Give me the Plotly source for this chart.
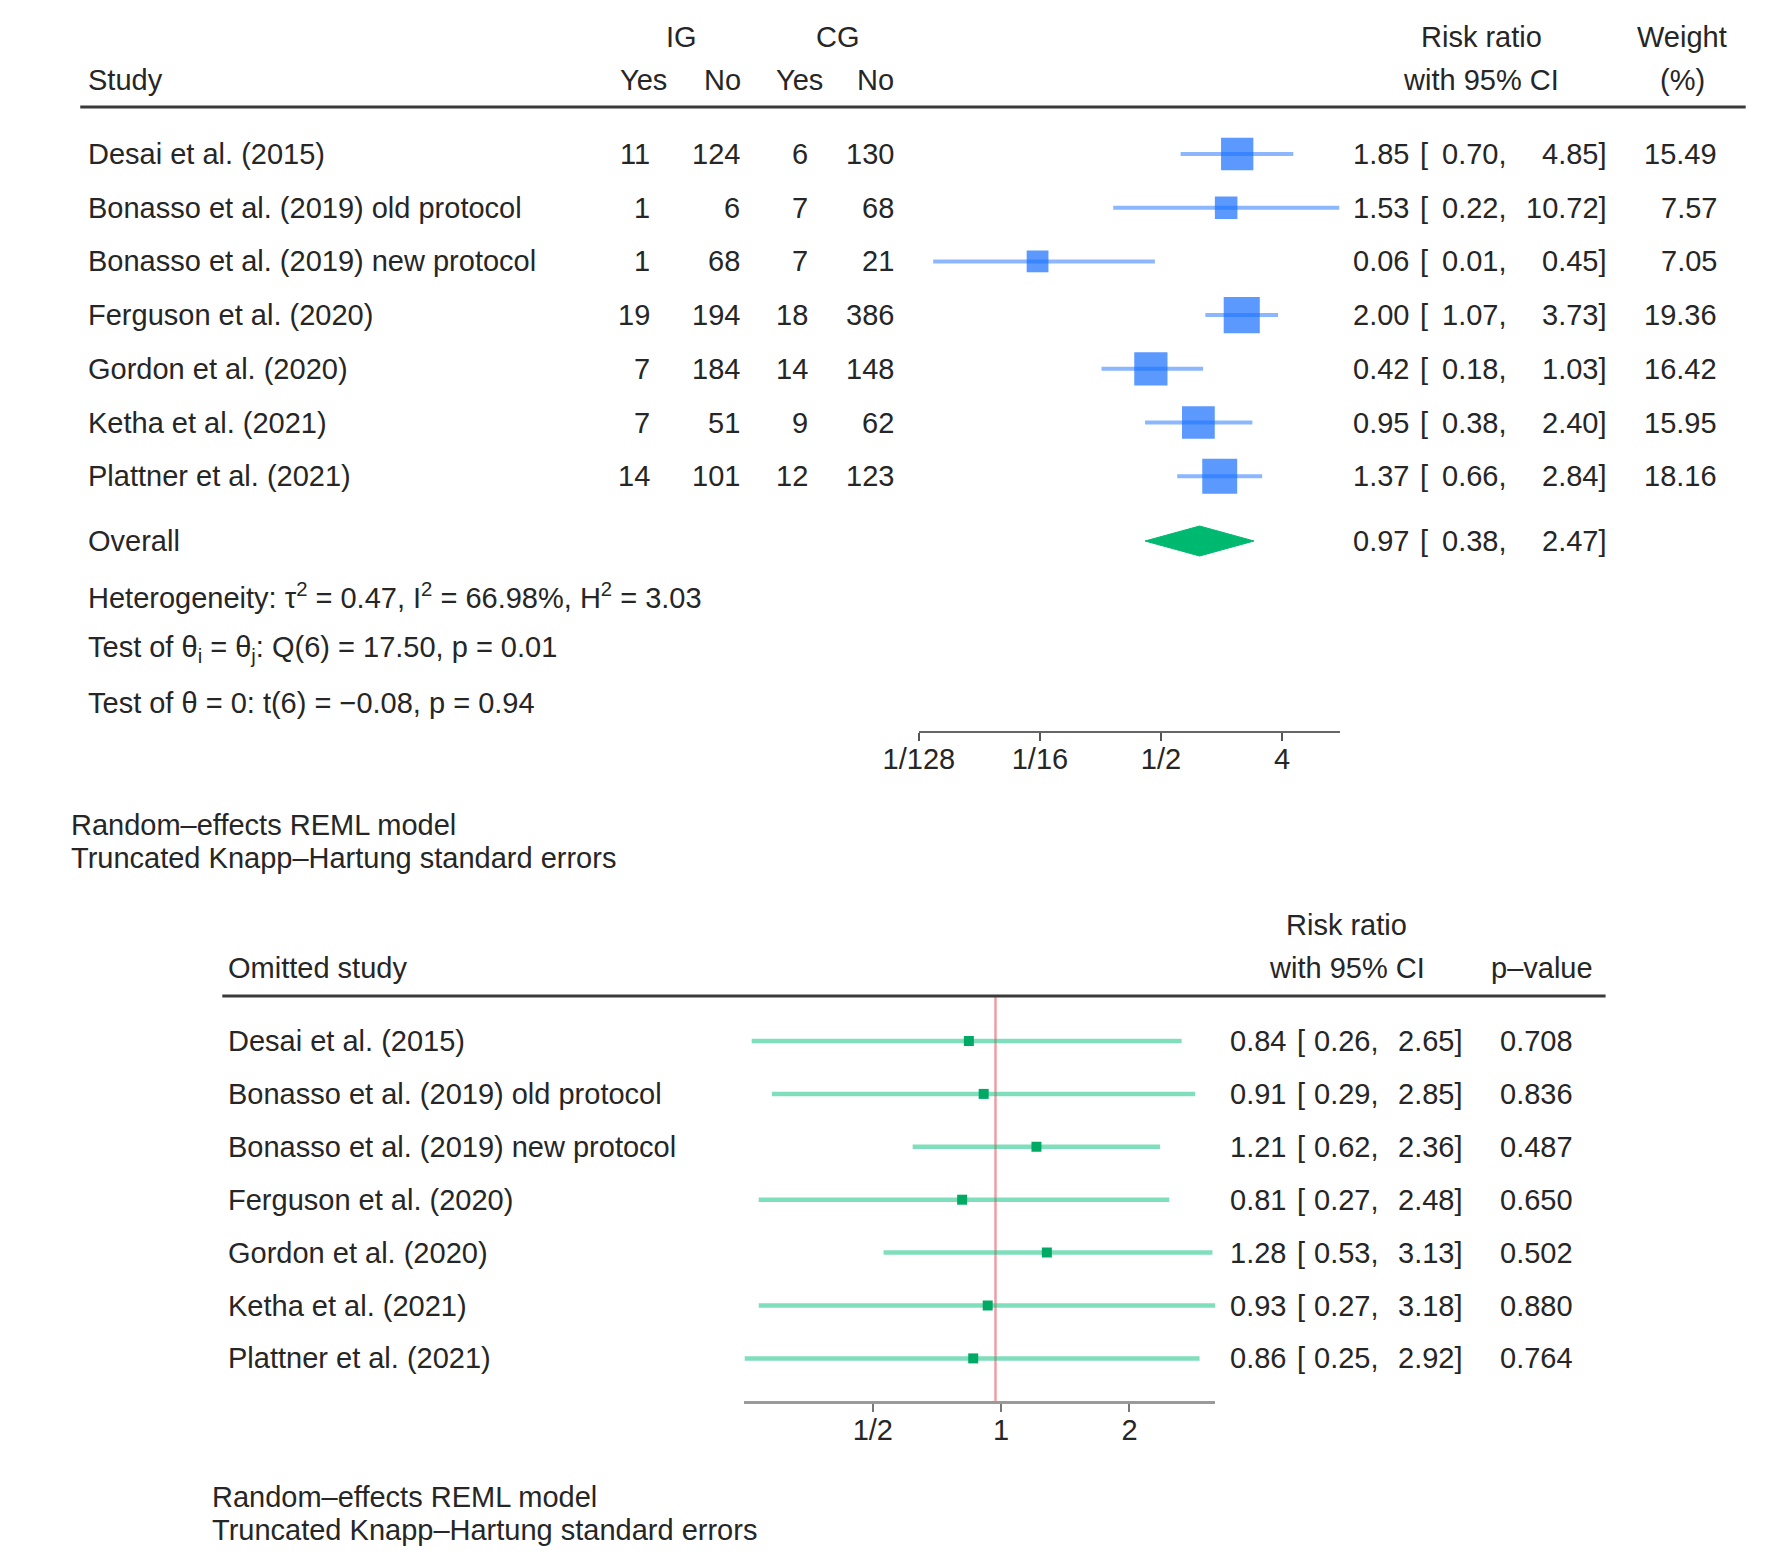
import numpy as np
import plotly.graph_objects as go

# ---------------- data ----------------
studies = ["Desai et al. (2015)", "Bonasso et al. (2019) old protocol",
           "Bonasso et al. (2019) new protocol", "Ferguson et al. (2020)",
           "Gordon et al. (2020)", "Ketha et al. (2021)", "Plattner et al. (2021)"]
ig_yes = [11, 1, 1, 19, 7, 7, 14]
ig_no = [124, 6, 68, 194, 184, 51, 101]
cg_yes = [6, 7, 7, 18, 14, 9, 12]
cg_no = [130, 68, 21, 386, 148, 62, 123]
rr = [1.85, 1.53, 0.06, 2.00, 0.42, 0.95, 1.37]
ci_lo = [0.70, 0.22, 0.01, 1.07, 0.18, 0.38, 0.66]
ci_hi = [4.85, 10.72, 0.45, 3.73, 1.03, 2.40, 2.84]
weight = [15.49, 7.57, 7.05, 19.36, 16.42, 15.95, 18.16]
overall = [0.97, 0.38, 2.47]
stats_lines = ["Heterogeneity: τ<sup>2</sup> = 0.47, I<sup>2</sup> = 66.98%, H<sup>2</sup> = 3.03",
               "Test of θ<sub>i</sub> = θ<sub>j</sub>: Q(6) = 17.50, p = 0.01",
               "Test of θ = 0: t(6) = −0.08, p = 0.94"]
top_tick_vals = [1/128, 1/16, 1/2, 4]
top_tick_text = ["1/128", "1/16", "1/2", "4"]
notes = ["Random–effects REML model", "Truncated Knapp–Hartung standard errors"]

loo_rr = [0.84, 0.91, 1.21, 0.81, 1.28, 0.93, 0.86]
loo_lo = [0.26, 0.29, 0.62, 0.27, 0.53, 0.27, 0.25]
loo_hi = [2.65, 2.85, 2.36, 2.48, 3.13, 3.18, 2.92]
loo_p = ["0.708", "0.836", "0.487", "0.650", "0.502", "0.880", "0.764"]
bot_tick_vals = [0.5, 1, 2]
bot_tick_text = ["1/2", "1", "2"]

# ---------------- layout helpers ----------------
W, H = 1771, 1568
OX, OY = -8, -8          # compensate page margin
FONT = "Liberation Sans, Arial, sans-serif"
FS = 29
TXT = "#262626"

def px(x):
    return (x + OX) / W

def py(y):
    return 1 - (y + OY) / H

annotations = []

def label(x, y, text, anchor="left", size=FS):
    annotations.append(dict(x=px(x), y=py(y), xref="paper", yref="paper", text=text,
                            xanchor=anchor, yanchor="middle", showarrow=False,
                            font=dict(family=FONT, size=size, color=TXT)))

fig = go.Figure()

# ---------------- top panel ----------------
T_ROW0, T_STEP = 154, 53.7
T_AXIS_Y, T_HEAD_Y = 731, 107
T_LEFT, T_PPL = 901, 41.2  # px at left end of axis, px per log2 unit
t_rows = [T_ROW0 + T_STEP * i for i in range(len(studies))]
t_over_y = 541

t_lo = min(min(ci_lo), min(top_tick_vals))
t_hi = max(max(ci_hi), max(top_tick_vals))
t_right = T_LEFT + T_PPL * (np.log2(t_hi) - np.log2(t_lo))

xs, ys = [], []
for lo, hi, y in zip(ci_lo, ci_hi, t_rows):
    xs += [lo, hi, None]
    ys += [y, y, None]
fig.add_trace(go.Scatter(x=xs, y=ys, mode="lines", xaxis="x", yaxis="y",
                         line=dict(color="rgba(26,112,255,0.5)", width=4),
                         hoverinfo="skip", showlegend=False))
fig.add_trace(go.Scatter(x=rr, y=t_rows, mode="markers", xaxis="x", yaxis="y",
                         marker=dict(symbol="square", color="rgb(22,110,255)",
                                     size=[8.2 * np.sqrt(w) for w in weight],
                                     line=dict(width=0)),
                         showlegend=False))
dh = 15
fig.add_trace(go.Scatter(x=[overall[1], overall[0], overall[2], overall[0], overall[1]],
                         y=[t_over_y, t_over_y - dh, t_over_y, t_over_y + dh, t_over_y],
                         mode="lines", fill="toself", fillcolor="rgb(0,185,112)",
                         line=dict(color="rgb(0,185,112)", width=1),
                         xaxis="x", yaxis="y", showlegend=False))

# headers
label(659, 37, "IG", "center")
label(818, 37, "CG", "center")
label(51, 80, "Study")
for xc, t in zip([620, 701, 779, 857], ["Yes", "No", "Yes", "No"]):
    label(xc, 80, t, "center")
label(1475, 37, "Risk ratio", "center")
label(1475, 80, "with 95% CI", "center")
label(1680, 37, "Weight", "center")
label(1680, 80, "(%)", "center")

for i, y in enumerate(t_rows):
    label(51, y, studies[i])
    label(629, y, str(ig_yes[i]), "right")
    label(720, y, str(ig_no[i]), "right")
    label(790, y, str(cg_yes[i]), "right")
    label(878, y, str(cg_no[i]), "right")
    label(1403, y, f"{rr[i]:.2f}", "right")
    label(1410, y, "[", "left")
    label(1503, y, f"{ci_lo[i]:.2f},", "right")
    label(1605, y, f"{ci_hi[i]:.2f}]", "right")
    label(1718, y, f"{weight[i]:.2f}", "right")

label(51, t_over_y, "Overall")
label(1403, t_over_y, f"{overall[0]:.2f}", "right")
label(1410, t_over_y, "[", "left")
label(1503, t_over_y, f"{overall[1]:.2f},", "right")
label(1605, t_over_y, f"{overall[2]:.2f}]", "right")
for t, y in zip(stats_lines, [596, 649, 703]):
    label(51, y, t)
label(34, 825, notes[0])
label(34, 858, notes[1])

# ---------------- bottom panel ----------------
B_ROW0, B_STEP = 1041, 52.9
B_AXIS_Y, B_HEAD_Y = 1401, 996
B_LEFT, B_PPL = 723, 131
b_rows = [B_ROW0 + B_STEP * i for i in range(len(studies))]
b_lo = min(loo_lo)
b_hi = max(loo_hi)
b_right = B_LEFT + B_PPL * (np.log2(b_hi) - np.log2(b_lo))

fig.add_trace(go.Scatter(x=[overall[0], overall[0]], y=[B_HEAD_Y, B_AXIS_Y], mode="lines",
                         xaxis="x2", yaxis="y2",
                         line=dict(color="rgba(232,90,105,0.6)", width=2.5),
                         hoverinfo="skip", showlegend=False))
xs, ys = [], []
for lo, hi, y in zip(loo_lo, loo_hi, b_rows):
    xs += [lo, hi, None]
    ys += [y, y, None]
fig.add_trace(go.Scatter(x=xs, y=ys, mode="lines", xaxis="x2", yaxis="y2",
                         line=dict(color="rgba(0,190,120,0.5)", width=4.5),
                         hoverinfo="skip", showlegend=False))
fig.add_trace(go.Scatter(x=loo_rr, y=b_rows, mode="markers", xaxis="x2", yaxis="y2",
                         marker=dict(symbol="square", color="rgb(0,170,100)", size=10,
                                     line=dict(width=0)),
                         showlegend=False))

label(194, 968, "Omitted study")
label(1338, 925, "Risk ratio", "center")
label(1338, 968, "with 95% CI", "center")
label(1537, 968, "p–value", "center")
for i, y in enumerate(b_rows):
    label(194, y, studies[i])
    label(1278, y, f"{loo_rr[i]:.2f}", "right")
    label(1285, y, "[", "left")
    label(1373, y, f"{loo_lo[i]:.2f},", "right")
    label(1458, y, f"{loo_hi[i]:.2f}]", "right")
    label(1571, y, loo_p[i], "right")
label(177, 1497, notes[0])
label(177, 1530, notes[1])

shapes = [
    dict(type="line", xref="paper", yref="paper", x0=px(45), x1=px(1745),
         y0=py(T_HEAD_Y), y1=py(T_HEAD_Y), line=dict(color="#3a3a3a", width=3)),
    dict(type="line", xref="paper", yref="paper", x0=px(190), x1=px(1602),
         y0=py(B_HEAD_Y), y1=py(B_HEAD_Y), line=dict(color="#3a3a3a", width=3)),
]

axis_common = dict(type="log", showgrid=False, zeroline=False, showline=True,
                   ticks="outside", ticklen=8, tickwidth=2, ticklabelstandoff=-7,
                   tickfont=dict(family=FONT, size=FS, color=TXT), fixedrange=True)

fig.update_layout(
    width=W, height=H, margin=dict(l=0, r=0, t=0, b=0),
    paper_bgcolor="white", plot_bgcolor="white", showlegend=False,
    xaxis=dict(**axis_common, domain=[px(T_LEFT), px(t_right)],
               range=[np.log10(t_lo), np.log10(t_hi)], anchor="y",
               tickvals=top_tick_vals, ticktext=top_tick_text,
               linecolor="#666", linewidth=2, tickcolor="#555"),
    yaxis=dict(domain=[py(T_AXIS_Y), py(T_HEAD_Y)], range=[T_AXIS_Y, T_HEAD_Y],
               visible=False, fixedrange=True),
    xaxis2=dict(**axis_common, domain=[px(B_LEFT), px(b_right)],
                range=[np.log10(b_lo), np.log10(b_hi)], anchor="y2",
                tickvals=bot_tick_vals, ticktext=bot_tick_text,
                linecolor="#9a9a9a", linewidth=3, tickcolor="#777"),
    yaxis2=dict(domain=[py(B_AXIS_Y), py(B_HEAD_Y)], range=[B_AXIS_Y, B_HEAD_Y],
                visible=False, fixedrange=True),
    annotations=annotations, shapes=shapes,
)

fig.write_html("out.html")
